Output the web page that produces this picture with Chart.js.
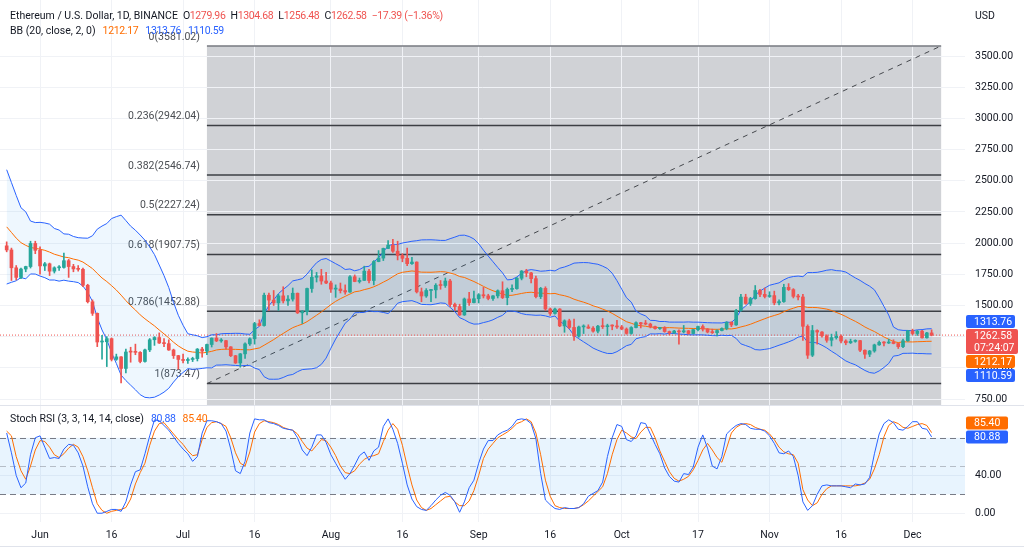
<!DOCTYPE html>
<html>
<head>
<meta charset="utf-8">
<script src="https://cdn.jsdelivr.net/npm/chart.js@4.4.0/dist/chart.umd.min.js"></script>
<style>
  body { margin: 0; background: #fff; }
  #wrap { position: relative; width: 1024px; height: 553px; overflow: hidden; font-family: Roboto, 'Liberation Sans', sans-serif; }
  canvas { position: absolute; left: 0; }
  #main { top: 0; }
  #stoch { top: 405px; }
  .leg { position: absolute; font-size: 10.5px; color: #131722; white-space: nowrap; line-height: 14px; display: flex; gap: 5px; }
  .num { letter-spacing: -0.35px; }
  .r { color: #ef5350; }
  .o { color: #ff6d00; }
  .b { color: #2962ff; }
  .sep { position: absolute; left: 0; width: 1024px; height: 1px; background: #e0e3eb; }
</style>
</head>
<body>
<div id="wrap">
  <canvas id="main" width="1024" height="405"></canvas>
  <canvas id="stoch" width="1024" height="148"></canvas>
  <div class="sep" style="top:405px"></div>
  <div class="sep" style="top:546px"></div>

  <div class="leg" style="left:10px;top:9px">
    <span>Ethereum / U.S. Dollar, 1D, BINANCE</span>
    <span class="num">O<span class="r">1279.96</span></span>
    <span class="num">H<span class="r">1304.68</span></span>
    <span class="num">L<span class="r">1256.48</span></span>
    <span class="num">C<span class="r">1262.58</span></span>
    <span class="num r">−17.39 (−1.36%)</span>
  </div>
  <div class="leg" style="left:975px;top:9px">USD</div>

  <div class="leg" style="left:10px;top:24px;gap:7px">
    <span>BB (20, close, 2, 0)</span>
    <span class="num o">1212.17</span>
    <span class="num b">1313.76</span>
    <span class="num b">1110.59</span>
  </div>

  <div class="leg" style="left:10px;top:412px;gap:7px">
    <span>Stoch RSI (3, 3, 14, 14, close)</span>
    <span class="num b">80.88</span>
    <span class="num o">85.40</span>
  </div>
</div>

<script>
// daily candles, 2022-05-25 .. 2022-12-05
const firstDate = '2022-05-25';

const opens = [1978,1945,1802,1725,1792,1812,1997,
  1942,1817,1834,1775,1802,1805,1859,1812,1793,1790,
  1662,1530,1437,1207,1209,1234,1068,1088,995,1127,
  1126,1124,1051,1144,1225,1243,1199,1194,1143,1098,
  1067,1059,1067,1074,1150,1134,1187,1238,1216,1218,
  1168,1097,1039,1112,1192,1233,1355,1339,1582,1543,
  1521,1577,1537,1551,1598,1441,1451,1636,1726,1737,1696,
  1680,1631,1632,1619,1608,1730,1692,1701,1775,1700,
  1852,1880,1957,1984,1935,1901,1878,1835,1848,1609,
  1576,1620,1625,1662,1660,1696,1508,1491,1424,1552,1523,
  1554,1586,1577,1556,1577,1618,1563,1629,1635,1718,
  1776,1761,1715,1571,1637,1472,1436,1471,1336,1377,
  1324,1254,1328,1328,1318,1294,1334,1330,1337,1335,
  1328,1311,1276,1323,1362,1352,1351,1330,1315,1322,
  1291,1280,1295,1288,1297,1275,1306,1331,1311,1287,
  1282,1299,1315,1365,1344,1460,1567,1516,1555,1620,1589,
  1572,1579,1521,1531,1645,1627,1573,1568,1333,1101,
  1299,1287,1256,1221,1242,1253,1215,1201,1212,1218,
  1141,1109,1135,1184,1204,1199,1206,1195,1170,1217,
  1297,1275,1294,1241,1279.96];

const highs = [2010,1960,1820,1800,1815,2015,2015,
  1970,1845,1840,1810,1820,1920,1870,1830,1820,1800,
  1670,1545,1440,1260,1250,1240,1110,1090,1150,1165,
  1190,1130,1150,1235,1250,1280,1235,1225,1150,1100,
  1110,1080,1085,1155,1165,1190,1240,1275,1235,1220,
  1170,1100,1115,1200,1240,1365,1385,1600,1600,1620,
  1590,1650,1580,1640,1600,1460,1640,1785,1765,1790,1765,
  1695,1665,1680,1665,1740,1745,1720,1815,1790,1860,
  1940,1960,2020,2030,2015,1915,1960,1885,1850,1640,
  1635,1630,1675,1700,1720,1710,1520,1510,1560,1605,1615,
  1595,1645,1590,1580,1625,1690,1640,1665,1725,1780,
  1790,1765,1735,1645,1650,1480,1480,1475,1385,1390,
  1390,1335,1345,1345,1330,1340,1395,1350,1345,1380,
  1340,1320,1330,1368,1365,1380,1358,1335,1325,1330,
  1295,1300,1305,1340,1300,1310,1335,1345,1315,1310,
  1305,1320,1370,1370,1470,1590,1590,1565,1660,1630,1640,
  1610,1615,1545,1670,1675,1635,1590,1590,1345,1340,
  1305,1290,1265,1270,1290,1265,1225,1230,1225,1220,
  1145,1140,1190,1215,1210,1230,1225,1198,1230,1300,
  1310,1300,1300,1285,1304.68];

const lows = [1930,1700,1705,1715,1770,1800,1915,
  1750,1780,1740,1760,1780,1800,1725,1770,1775,1650,
  1520,1420,1170,1070,1010,1055,1060,880,960,1045,
  1105,1040,1045,1130,1180,1195,1170,1140,1075,990,
  1040,1036,1050,1055,1085,1105,1167,1210,1205,1150,
  1090,1035,1005,1075,1180,1190,1335,1335,1460,1500,
  1460,1520,1500,1535,1435,1355,1425,1605,1688,1670,1675,
  1605,1565,1600,1590,1605,1690,1680,1700,1680,1665,
  1850,1860,1955,1925,1865,1850,1820,1830,1600,1530,
  1565,1530,1560,1630,1645,1490,1460,1420,1420,1500,1520,
  1520,1560,1545,1540,1560,1555,1505,1610,1630,1705,
  1730,1680,1560,1555,1460,1420,1430,1330,1285,1315,
  1220,1245,1275,1315,1285,1280,1315,1260,1305,1315,
  1305,1270,1270,1320,1320,1345,1320,1310,1308,1285,
  1265,1275,1190,1280,1270,1272,1295,1295,1280,1275,
  1255,1295,1305,1330,1340,1455,1510,1500,1550,1570,1560,
  1565,1505,1505,1525,1620,1560,1545,1220,1075,1090,
  1190,1245,1205,1175,1230,1200,1185,1195,1205,1130,
  1075,1090,1125,1180,1175,1195,1192,1155,1162,1213,
  1265,1260,1238,1238,1256.48];

const closes = [1945,1802,1725,1792,1812,1997,1942,
  1817,1834,1775,1802,1805,1859,1812,1793,1790,1662,
  1530,1437,1207,1209,1234,1068,1088,995,1127,1126,
  1124,1051,1144,1225,1243,1199,1194,1143,1098,1067,
  1059,1067,1074,1150,1134,1187,1238,1216,1218,1168,
  1097,1039,1112,1192,1233,1355,1339,1582,1543,1521,
  1577,1537,1551,1598,1441,1451,1636,1726,1737,1696,1680,
  1631,1632,1619,1608,1730,1692,1701,1775,1700,1852,
  1880,1957,1984,1935,1901,1878,1835,1848,1609,1576,
  1620,1625,1662,1660,1696,1508,1491,1424,1552,1523,1554,
  1586,1577,1556,1577,1618,1563,1629,1635,1718,1776,
  1761,1715,1571,1637,1472,1436,1471,1336,1377,1324,
  1254,1328,1328,1318,1294,1334,1330,1337,1335,1328,
  1311,1276,1323,1362,1352,1351,1330,1315,1322,1291,
  1280,1295,1288,1297,1275,1306,1331,1311,1287,1282,
  1299,1315,1365,1344,1460,1567,1516,1555,1620,1589,1572,
  1579,1521,1531,1645,1627,1573,1568,1333,1101,1299,
  1287,1256,1221,1242,1253,1215,1201,1212,1218,1141,
  1109,1135,1184,1204,1199,1206,1195,1170,1217,1297,
  1275,1294,1241,1280,1262.58];

// closes of the 19 days before the first candle (for the 20-day bands)
const earlierCloses = [2694,2636,2518,2245,2343,2072,1962,2014,2057,2145,
  2023,2091,1914,2018,1958,1974,2043,1972,1979];

const stochK = [85,64,40,27,32,62,80,82,
  70,58,59,58,68,73,72,64,50,28,
  10,0,0,2,4,4,2,12,30,44,
  46,63,82,99,98,93,88,81,74,68,
  63,55,60,85,98,98,97,95,87,68,
  45,42,55,85,100,99,99,96,95,93,
  90,89,88,80,67,61,70,83,83,75,
  62,53,44,36,42,51,61,65,56,66,
  70,92,100,89,74,53,30,15,7,4,
  3,8,14,19,22,19,12,1,12,27,
  35,53,68,77,77,83,86,88,92,99,
  100,99,95,79,42,14,9,5,4,6,
  5,5,6,10,18,21,24,33,60,80,
  94,92,78,76,82,96,95,84,73,63,
  48,39,34,33,42,41,49,70,83,69,
  50,47,60,84,89,93,95,94,90,89,
  89,87,82,74,64,63,66,60,40,12,
  3,8,20,29,30,29,29,29,28,27,
  31,30,31,38,63,84,95,99,96,89,
  88,92,97,97,90,89,80.88];

const stochD = [87,82,60,45,36,50,67,77,
  76,70,62,59,63,69,73,70,60,45,
  27,10,3,0,2,3,4,6,15,31,
  43,53,72,87,95,96,90,84,78,73,
  66,61,62,78,91,96,97,95,92,80,
  64,53,50,65,86,95,98,97,96,94,
  91,89,88,84,76,69,66,72,78,77,
  70,61,50,43,42,45,52,57,60,61,
  63,76,88,95,89,72,50,30,14,6,
  3,5,9,13,17,18,12,8,8,13,
  24,40,58,68,74,80,83,86,90,95,
  97,100,97,85,62,35,18,8,6,5,
  5,5,6,9,13,18,23,28,42,62,
  78,88,85,81,79,86,91,91,80,66,
  55,44,37,34,36,39,46,56,67,74,
  67,59,54,69,85,91,94,95,94,91,
  89,88,84,78,70,65,63,62,53,25,
  14,8,11,20,26,29,29,29,29,29,
  29,30,32,36,47,62,81,93,97,95,
  91,90,92,94,95,93,85.40];

// fib retracement
const fibRatios = ['0', '0.236', '0.382', '0.5', '0.618', '0.786', '1'];
const fibPrices = [3581.02, 2942.04, 2546.74, 2227.24, 1907.75, 1452.88, 873.47];
const fibFrom = '2022-07-06';
const fibTo = '2022-12-07';

// axes
const tickDates = ['2022-06-01','2022-06-16','2022-07-01','2022-07-16','2022-08-01','2022-08-16',
  '2022-09-01','2022-09-16','2022-10-01','2022-10-17','2022-11-01','2022-11-16','2022-12-01'];
const tickLabels = ['Jun','16','Jul','16','Aug','16','Sep','16','Oct','17','Nov','16','Dec'];
const priceTicks = [750,1000,1250,1500,1750,2000,2250,2500,2750,3000,3250,3500];
const stochTicks = [0, 40, 80];
const stochBands = [80, 50, 20];

const lastClose = 1262.58;
const bbLast = { mid: 1212.17, up: 1313.76, low: 1110.59 };
const kLast = 80.88, dLast = 85.40;

const GREEN = '#26a69a', RED = '#ef5350', BLUE = '#2962ff', ORANGE = '#ff6d00';
const FONT = "Roboto, 'Liberation Sans', sans-serif";
const GRID = '#f0f2f6';

const dayOf = s => (Date.parse(s) - Date.parse('2022-06-01')) / 86400000;
const startDay = dayOf(firstDate);
const days = closes.map((_, i) => startDay + i);
const tickDays = tickDates.map(dayOf);
const xMin = -8.4, xMax = 194;

// bollinger bands 20, 2
const allCloses = earlierCloses.concat(closes);
const bbMid = [], bbUp = [], bbLow = [];
closes.forEach((c, i) => {
    const end = i + earlierCloses.length + 1;
    const win = allCloses.slice(end - 20, end);
    const mean = win.reduce((a, b) => a + b, 0) / 20;
    const sd = Math.sqrt(win.reduce((a, b) => a + (b - mean) * (b - mean), 0) / 20);
    bbMid.push(mean);
    bbUp.push(mean + 2 * sd);
    bbLow.push(mean - 2 * sd);
});

const pts = arr => days.map((d, i) => ({ x: d, y: arr[i] }));
const candleColor = c => closes[c.dataIndex] >= opens[c.dataIndex] ? GREEN : RED;

function badge(ctx, x, top, w, h, color, lines) {
    ctx.save();
    ctx.fillStyle = color;
    ctx.beginPath();
    ctx.roundRect(x, top, w, h, 2);
    ctx.fill();
    ctx.fillStyle = '#fff';
    ctx.font = '10.5px ' + FONT;
    ctx.textBaseline = 'middle';
    lines.forEach((t, k) => ctx.fillText(t, x + 8, top + 7 + k * 12));
    ctx.restore();
}

const fibPlugin = {
    id: 'fib',
    beforeDraw(chart) {
        const { ctx, chartArea: a, scales: { x, y } } = chart;
        const x1 = x.getPixelForValue(dayOf(fibFrom));
        const x2 = x.getPixelForValue(dayOf(fibTo));
        const top = y.getPixelForValue(fibPrices[0]);
        ctx.save();
        ctx.fillStyle = '#d0d2d6';
        ctx.fillRect(x1, top, x2 - x1, a.bottom - top);
        ctx.restore();
    },
    beforeDatasetsDraw(chart) {
        const { ctx, chartArea: a, scales: { x, y } } = chart;
        const x1 = x.getPixelForValue(dayOf(fibFrom));
        const x2 = x.getPixelForValue(dayOf(fibTo));
        ctx.save();
        ctx.font = '10.5px ' + FONT;
        ctx.textAlign = 'right';
        ctx.textBaseline = 'middle';
        fibPrices.forEach((p, i) => {
            const py = y.getPixelForValue(p);
            ctx.strokeStyle = i === 0 ? '#777a80' : '#3c3f44';
            ctx.lineWidth = 1.5;
            ctx.beginPath();
            ctx.moveTo(x1, py);
            ctx.lineTo(x2, py);
            ctx.stroke();
            ctx.fillStyle = '#4a4d52';
            ctx.fillText(fibRatios[i] + '(' + p.toFixed(2) + ')', x1 - 7, py - 9);
        });
        // trend line of the retracement
        ctx.strokeStyle = '#45484d';
        ctx.lineWidth = 1;
        ctx.setLineDash([5, 5]);
        ctx.beginPath();
        ctx.moveTo(x1, y.getPixelForValue(fibPrices[fibPrices.length - 1]));
        ctx.lineTo(x2, y.getPixelForValue(fibPrices[0]));
        ctx.stroke();
        // last price line
        const ly = y.getPixelForValue(lastClose);
        ctx.strokeStyle = RED;
        ctx.setLineDash([1, 2]);
        ctx.beginPath();
        ctx.moveTo(a.left, ly);
        ctx.lineTo(a.right, ly);
        ctx.stroke();
        ctx.restore();
    },
    afterDraw(chart) {
        const { ctx, chartArea: a, scales: { y } } = chart;
        const bx = a.right + 1;
        const redTop = y.getPixelForValue(lastClose) - 6;
        badge(ctx, bx, redTop - 14, 49, 13, BLUE, [bbLast.up.toFixed(2)]);
        badge(ctx, bx, redTop, 52, 25, RED, [lastClose.toFixed(2), '07:24:07']);
        badge(ctx, bx, redTop + 26, 49, 13, ORANGE, [bbLast.mid.toFixed(2)]);
        badge(ctx, bx, redTop + 40, 49, 13, BLUE, [bbLast.low.toFixed(2)]);
    }
};

const stochPlugin = {
    id: 'stochBands',
    beforeDatasetsDraw(chart) {
        const { ctx, chartArea: a, scales: { y } } = chart;
        const yTop = y.getPixelForValue(stochBands[0]);
        const yBot = y.getPixelForValue(stochBands[2]);
        ctx.save();
        ctx.fillStyle = 'rgba(33,150,243,0.1)';
        ctx.fillRect(a.left, yTop, a.right - a.left, yBot - yTop);
        ctx.lineWidth = 1;
        stochBands.forEach((v, i) => {
            const py = Math.round(y.getPixelForValue(v)) + 0.5;
            ctx.strokeStyle = i === 1 ? 'rgba(120,123,134,0.45)' : '#787b86';
            ctx.setLineDash([6, 4]);
            ctx.beginPath();
            ctx.moveTo(a.left, py);
            ctx.lineTo(a.right, py);
            ctx.stroke();
        });
        ctx.restore();
    },
    afterDraw(chart) {
        const { ctx, chartArea: a, scales: { y } } = chart;
        const bx = a.right + 1;
        const kTop = y.getPixelForValue(kLast) - 6.5;
        badge(ctx, bx, kTop, 42, 13, BLUE, [kLast.toFixed(2)]);
        badge(ctx, bx, kTop - 14, 42, 13, ORANGE, [dLast.toFixed(2)]);
    }
};

const xScale = (showLabels) => ({
    type: 'linear',
    min: xMin,
    max: xMax,
    offset: false,
    grid: { color: GRID, drawTicks: false, offset: false },
    border: { display: false },
    ticks: {
        display: showLabels,
        color: '#131722',
        font: { size: 10.5, family: FONT },
        padding: 7,
        maxRotation: 0,
        autoSkip: false,
        callback: v => tickLabels[tickDays.indexOf(v)] || ''
    },
    afterBuildTicks: s => { s.ticks = tickDays.map(v => ({ value: v })); },
    afterFit: s => { s.height = showLabels ? 31 : 0; s.paddingLeft = 0; s.paddingRight = 0; }
});

new Chart(document.getElementById('main'), {
    type: 'bar',
    data: {
        datasets: [
            { type: 'line', data: pts(bbUp), borderColor: BLUE, borderWidth: 1, pointRadius: 0,
              fill: '+1', backgroundColor: 'rgba(33,150,243,0.08)', order: 3 },
            { type: 'line', data: pts(bbLow), borderColor: BLUE, borderWidth: 1, pointRadius: 0, order: 4 },
            { type: 'line', data: pts(bbMid), borderColor: ORANGE, borderWidth: 1, pointRadius: 0, order: 2 },
            { data: days.map((d, i) => ({ x: d, y: [lows[i], highs[i]] })), backgroundColor: candleColor,
              barThickness: 1, grouped: false, order: 1 },
            { data: days.map((d, i) => ({ x: d, y: [opens[i], closes[i]] })), backgroundColor: candleColor,
              barThickness: 3, grouped: false, minBarLength: 1, order: 0 }
        ]
    },
    options: {
        responsive: false,
        animation: false,
        layout: { padding: 0 },
        plugins: { legend: { display: false }, tooltip: { enabled: false } },
        scales: {
            x: xScale(false),
            y: {
                type: 'linear',
                position: 'right',
                min: 702,
                max: 3949,
                grid: { color: GRID, drawTicks: false },
                border: { display: false },
                ticks: { color: '#131722', font: { size: 10.5, family: FONT }, padding: 10,
                         callback: v => v.toFixed(2) },
                afterBuildTicks: s => { s.ticks = priceTicks.map(v => ({ value: v })); },
                afterFit: s => { s.width = 59; s.paddingTop = 0; s.paddingBottom = 0; }
            }
        }
    },
    plugins: [fibPlugin]
});

new Chart(document.getElementById('stoch'), {
    type: 'line',
    data: {
        datasets: [
            { data: pts(stochK), borderColor: BLUE, borderWidth: 1, pointRadius: 0, order: 0 },
            { data: pts(stochD), borderColor: ORANGE, borderWidth: 1, pointRadius: 0, order: 1 }
        ]
    },
    options: {
        responsive: false,
        animation: false,
        layout: { padding: 0 },
        plugins: { legend: { display: false }, tooltip: { enabled: false } },
        scales: {
            x: xScale(true),
            y: {
                type: 'linear',
                position: 'right',
                min: -9.3,
                max: 114.7,
                grid: { color: c => c.tick.value === 80 ? 'transparent' : GRID, drawTicks: false },
                border: { display: false },
                ticks: { color: '#131722', font: { size: 10.5, family: FONT }, padding: 10,
                         callback: v => v.toFixed(2) },
                afterBuildTicks: s => { s.ticks = stochTicks.map(v => ({ value: v })); },
                afterFit: s => { s.width = 59; s.paddingTop = 0; s.paddingBottom = 0; }
            }
        }
    },
    plugins: [stochPlugin]
});
</script>
</body>
</html>
